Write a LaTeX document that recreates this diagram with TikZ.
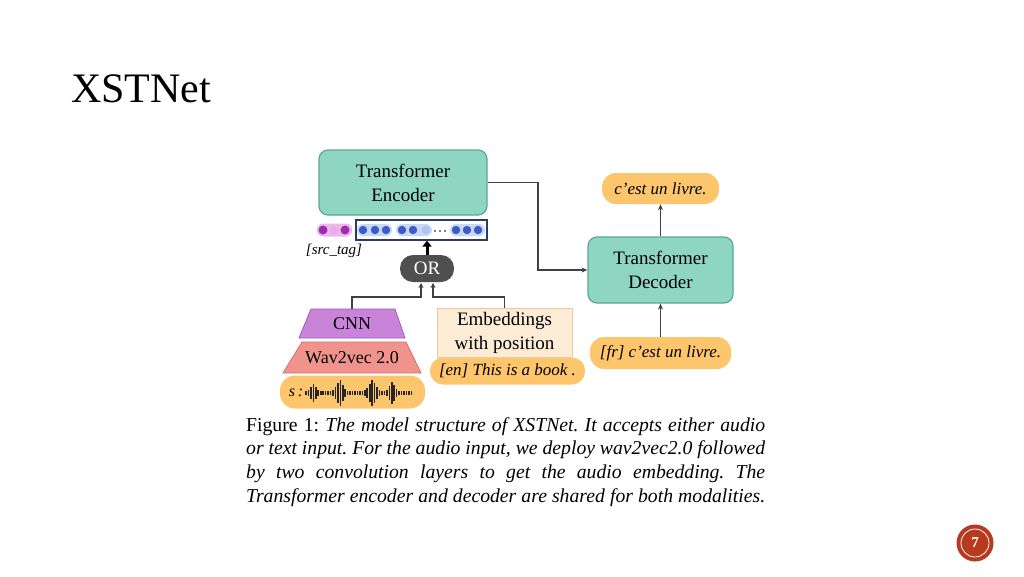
\documentclass[tikz,border=0pt]{standalone}
\usepackage{fontspec}
\setmainfont{Liberation Serif}
\usetikzlibrary{arrows.meta}
\definecolor{tealfill}{HTML}{8ED6C2}
\definecolor{tealdraw}{HTML}{5AA894}
\definecolor{pillfill}{HTML}{FDC66C}
\definecolor{cnnfill}{HTML}{C983D9}
\definecolor{cnndraw}{HTML}{A45BBB}
\definecolor{wavfill}{HTML}{F1938D}
\definecolor{wavdraw}{HTML}{D96E69}
\definecolor{embfill}{HTML}{FCEBD5}
\definecolor{embdraw}{HTML}{E9CBA3}
\definecolor{orfill}{HTML}{4F4F4F}
\definecolor{conn}{HTML}{404040}
\definecolor{navy}{HTML}{2B3A6B}
\definecolor{bdot}{HTML}{3A5CC4}
\definecolor{bdotl}{HTML}{AFC3F0}
\definecolor{bhalo}{HTML}{C9D8F7}
\definecolor{pdot}{HTML}{A02AB0}
\definecolor{pdotl}{HTML}{E9ABE9}
\definecolor{phalo}{HTML}{EBB8EB}
\definecolor{pagered}{HTML}{B83A1E}
\tikzset{
  fs/.style={font=\fontsize{#1}{#1}\selectfont},
  tbox/.style={draw=tealdraw, fill=tealfill, line width=1.2pt, rounded corners=9pt, align=center, fs=19, inner sep=0pt},
  pill/.style={fill=pillfill, rounded corners=14pt, inner sep=0pt, font=\fontsize{17}{17}\selectfont\itshape},
  link/.style={draw=conn, line width=1.5pt},
  arr/.style={link, -{Stealth[length=6pt,width=5pt]}},
  bd/.style={circle, fill=bdot, draw=bhalo, line width=1.2pt, inner sep=0pt, minimum size=10pt},
  bdl/.style={circle, fill=bdotl, draw=bhalo, line width=1.2pt, inner sep=0pt, minimum size=10pt},
  pd/.style={circle, fill=#1, inner sep=0pt, minimum size=9pt},
}
\begin{document}
\begin{tikzpicture}[x=1pt,y=-1pt]
\useasboundingbox[fill=white] (0,0) rectangle (1024,576);

% title
\node[anchor=base west, inner sep=0pt, font=\fontsize{42}{42}\selectfont] (title) at (71,102) {XSTNet};

% encoder / decoder
\node[tbox, minimum width=168pt, minimum height=65pt] (enc) at (403,182.5) {Transformer\\[5pt]Encoder};
\node[tbox, minimum width=145pt, minimum height=66pt] (dec) at (660.5,270) {Transformer\\[5pt]Decoder};

% pills on the right
\node[pill, minimum width=117pt, minimum height=31pt] (out) at (660.5,188.5) {c'est un livre.};
\node[pill, minimum width=141pt, minimum height=32pt] (fr) at (660.5,353) {[fr] c'est un livre.};

% token row
\node[draw=navy, line width=1.2pt, fill=white, minimum width=131pt, minimum height=20pt, inner sep=0pt] (row) at (421.5,230) {};
\fill[bhalo, rounded corners=6pt] (357,224) rectangle (392,236);
\fill[bhalo, rounded corners=6pt] (396,224) rectangle (432,236);
\fill[bhalo, rounded corners=6pt] (450,224) rectangle (485,236);
\node[bd] (t1) at (363,230) {};
\node[bd] (t2) at (375,230) {};
\node[bd] (t3) at (386,230) {};
\node[bd] (t4) at (402,230) {};
\node[bd] (t5) at (413,230) {};
\node[bdl] (t6) at (426,230) {};
\foreach \x in {435,440,445} \fill (\x,231) circle (0.9pt);
\node[bd] (t7) at (456,230) {};
\node[bd] (t8) at (467,230) {};
\node[bd] (t9) at (478,230) {};
% src tag
\fill[phalo, rounded corners=6pt] (317,223.5) rectangle (352,236.5);
\node[pd=pdot] (s1) at (323,230) {};
\node[pd=pdotl] (s2) at (334,230) {};
\node[pd=pdot] (s3) at (345,230) {};
\node[inner sep=0pt, font=\fontsize{15}{15}\selectfont\itshape] (srctag) at (334,251) {[src\_tag]};

% OR
\node[fill=orfill, rounded corners=13pt, minimum width=54pt, minimum height=27pt, inner sep=0pt, text=white, fs=19] (or) at (427,268.5) {OR};
\draw[line width=3pt, -{Triangle[length=6pt,width=9pt]}] (or.north) -- (or.north |- row.south);

% CNN trapezoid
\fill[cnnfill, draw=cnndraw, line width=0.8pt] (311,309) -- (395,309) -- (405,338) -- (299,338) -- cycle;
\node[inner sep=0pt, fs=18] (cnn) at (352,324) {CNN};
\coordinate (cnntop) at (352,309);
% Wav2vec trapezoid
\fill[wavfill, draw=wavdraw, line width=0.8pt] (302,342) -- (406,342) -- (421,373) -- (283,373) -- cycle;
\node[inner sep=0pt, fs=18] (wav) at (352,358) {Wav2vec 2.0};
% audio pill
\node[fill=pillfill, rounded corners=15pt, minimum width=145pt, minimum height=33pt, inner sep=0pt] (audio) at (352.5,392) {};
\node[inner sep=0pt, font=\fontsize{16}{16}\selectfont\itshape] (sym) at (296,393) {s\,:};
\foreach \h [count=\i from 0] in {2,3,6,9,6,3,2,2,2,2,2,3,6,10,13,8,4,2,2,2,2,2,2,2,3,5,9,13,10,6,3,2,2,3,7,11,8,4,2,2,2,2,2,2}
  \draw[line width=1.6pt, black!85] ({306+2.45*\i},{393-\h}) -- ({306+2.45*\i},{393+\h});

% embeddings
\node[draw=embdraw, fill=embfill, line width=1pt, minimum width=135pt, minimum height=49pt, inner sep=0pt, align=center, fs=19] (emb) at (504.5,332.5) {Embeddings\\[5pt]with position};
\node[pill, rounded corners=13pt, minimum width=155pt, minimum height=27pt] (en) at (507.5,371) {[en] This is a book .};

% connectors below OR
\coordinate (orl) at (421,283);
\coordinate (orr) at (433,283);
\draw[link, -{Stealth[length=5pt,width=5pt]}] (cnntop) |- (421,297) -- (orl);
\draw[link, -{Stealth[length=5pt,width=5pt]}] (emb.north) |- (433,297) -- (orr);

% encoder -> decoder
\draw[arr] (enc.east) -- (538,182.5) |- (dec.west);
\draw[arr] (dec.north) -- (out.south);
\draw[arr] (fr.north) -- (dec.south);

% caption
\node[anchor=base west, inner sep=0pt] (cap) at (246,431) {\parbox[t]{519pt}{\fontsize{19.7}{23.7}\selectfont\frenchspacing\parfillskip=0pt
Figure 1: \textit{The model structure of XSTNet. It accepts either audio}\linebreak
\textit{or text input. For the audio input, we deploy wav2vec2.0 followed}\linebreak
\textit{by two convolution layers to get the audio embedding. The}\linebreak
\textit{Transformer encoder and decoder are shared for both modalities.}\par}};

% page number
\node[circle, fill=pagered, minimum size=37pt, inner sep=0pt] (pg) at (975,543) {};
\draw[white, line width=0.8pt] (pg.center) circle (14pt);
\node[text=white, font=\fontsize{15}{15}\selectfont\bfseries] (pgn) at (975,543) {7};
\end{tikzpicture}
\end{document}
